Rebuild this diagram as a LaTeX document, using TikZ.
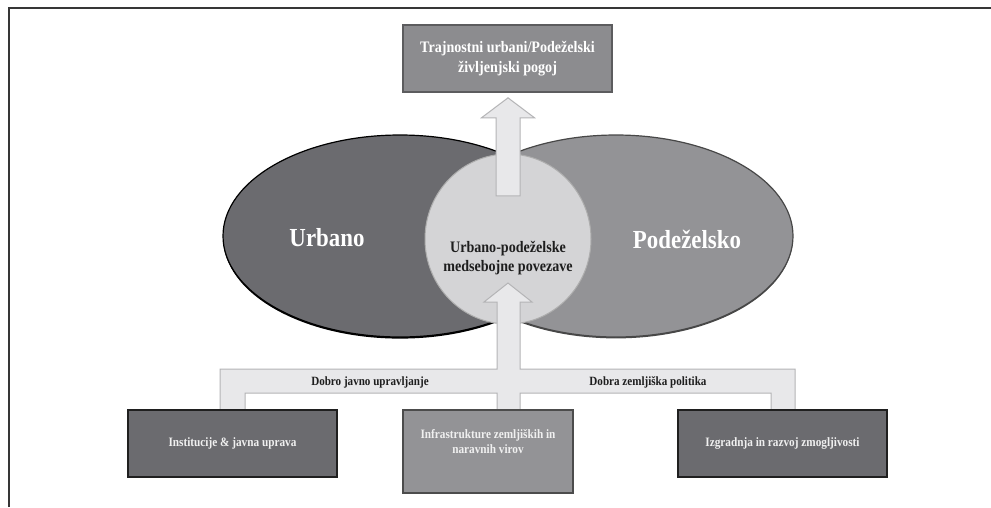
\documentclass[tikz,border=0pt]{standalone}
\usepackage{fontspec}
\setmainfont{Liberation Serif}[FakeStretch=0.88]
\usetikzlibrary{shapes.geometric,calc}
\definecolor{dkfill}{HTML}{6B6B6F}
\definecolor{mdfill}{HTML}{939396}
\definecolor{ltfill}{HTML}{D4D4D6}
\definecolor{arfill}{HTML}{E8E8EA}
\definecolor{arline}{HTML}{B4B4B6}
\definecolor{topfill}{HTML}{8C8C8F}
\definecolor{topline}{HTML}{5C5C5E}
\definecolor{frameline}{HTML}{363636}
\definecolor{darktext}{HTML}{1E1E1E}
\begin{document}
\begin{tikzpicture}[x=1pt,y=-1pt,
  framestyle/.style={draw=frameline,line width=2pt},
  bigell/.style={ellipse,inner sep=0pt,minimum width=354pt,minimum height=202pt},
  bigtxt/.style={text=white,font=\bfseries\fontsize{26}{30}\selectfont},
  midtxt/.style={text=darktext,align=center,font=\bfseries\fontsize{16}{19}\selectfont},
  boxtop/.style={rectangle,fill=topfill,draw=topline,line width=1.6pt,minimum width=209pt,minimum height=67pt,inner sep=0pt,text=white,align=center,font=\bfseries\fontsize{16}{20}\selectfont},
  boxdark/.style={rectangle,fill=dkfill,draw=black!88,line width=1.8pt,minimum width=209pt,minimum height=67pt,inner sep=0pt,text=white!94!black,align=center,font=\bfseries\fontsize{12.8}{15}\selectfont},
  boxmid/.style={rectangle,fill=mdfill,draw=black!70,line width=1.6pt,minimum width=170pt,minimum height=83pt,inner sep=0pt},
  boxtxt/.style={text=white!94!black,align=center,font=\bfseries\fontsize{12.8}{15}\selectfont},
  bandtxt/.style={text=darktext,font=\bfseries\fontsize{12.6}{15}\selectfont},
  blockarrow/.style={fill=arfill,draw=arline,line width=1pt,line join=miter}]
\useasboundingbox (0,0) rectangle (991,507);
\fill[white] (0,0) rectangle (991,507);
% frame
\draw[framestyle] (9,507) -- (9,8) -- (991,8);
% ellipses
\node[bigell,fill=black] (urbsh) at (400,237.6) {};
\node[bigell,fill=dkfill,draw=black,line width=1.2pt] (urb) at (400,236) {};
\node[bigell,fill=black!72] (podsh) at (616,237.4) {};
\node[bigell,fill=mdfill,draw=black!72,line width=1.2pt] (pod) at (616,236) {};
\node[ellipse,inner sep=0pt,minimum width=166pt,minimum height=170pt,fill=ltfill,draw=black!32,line width=1pt] (link) at (508,239) {};
\node[bigtxt] (urbt) at (327,238) {Urbano};
\node[bigtxt] (podt) at (687,239) {Podeželsko};
\node[midtxt] (linkt) at (508,258.5) {Urbano-podeželske\\medsebojne povezave};
% top box
\node[boxtop] (top) at (507.5,58.5) {Trajnostni urbani/Podeželski\\življenjski pogoj};
% top block arrow
\coordinate (ttip) at ($(top.south)+(0.5,5)$);
\filldraw[blockarrow] (ttip) -- ++(26.5,20) -- ++(-14.5,0) -- ++(0,78) -- ++(-24,0) -- ++(0,-78) -- ++(-14.5,0) -- cycle;
% bottom band connector
\coordinate (btip) at (508,283);
\filldraw[blockarrow] (btip) -- (532,302) -- (520,302) -- (520,369) -- (795,369) -- (795,410) -- (771,410) -- (771,393)
  -- (520,393) -- (520,410) -- (497,410) -- (497,393) -- (245,393) -- (245,410) -- (220,410) -- (220,369)
  -- (497,369) -- (497,302) -- (484,302) -- cycle;
\node[bandtxt] (lab1) at (370,382) {Dobro javno upravljanje};
\node[bandtxt] (lab2) at (648,382) {Dobra zemljiška politika};
% bottom boxes
\node[boxdark] (inst) at (232.5,443.5) {Institucije \& javna uprava};
\node[boxmid] (infra) at (488,451.5) {};
\node[boxtxt] (infrat) at (488,442) {Infrastrukture zemljiških in\\naravnih virov};
\node[boxdark] (izg) at (782.5,443.5) {Izgradnja in razvoj zmogljivosti};
\end{tikzpicture}
\end{document}
